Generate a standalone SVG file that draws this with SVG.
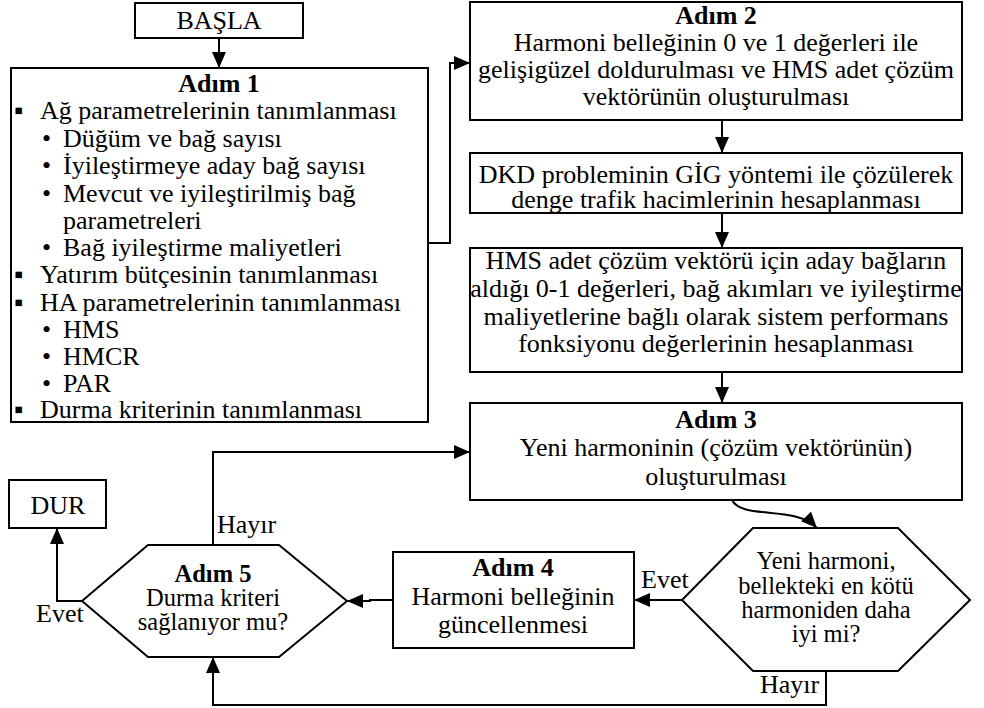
<svg xmlns="http://www.w3.org/2000/svg" width="984" height="708" viewBox="0 0 984 708">
<defs>
<style>
.t{font-family:"Liberation Serif","Times New Roman",serif;font-size:26px;fill:#000}
.h{font-size:24.5px}
.b{font-weight:bold}
.c{text-anchor:middle}
.box{fill:#fff;stroke:#000;stroke-width:2}
.ln{fill:none;stroke:#000;stroke-width:2}
</style>
<marker id="ah" markerWidth="16" markerHeight="14" refX="16" refY="7" orient="auto" markerUnits="userSpaceOnUse">
<path d="M0,0 L16,7 L0,14 z" fill="#000"/>
</marker>
</defs>
<rect width="984" height="708" fill="#fff"/>

<g id="connectors">
<path class="ln" d="M219,38 L219,68" marker-end="url(#ah)"/>
<path class="ln" d="M428,243 L450,243 L450,63 L470,63" marker-end="url(#ah)"/>
<path class="ln" d="M722,120 L722,153" marker-end="url(#ah)"/>
<path class="ln" d="M722,213 L722,248" marker-end="url(#ah)"/>
<path class="ln" d="M722,372 L722,403" marker-end="url(#ah)"/>
<path class="ln" d="M732,500 C742,520 795,505 817,528" marker-end="url(#ah)"/>
<path class="ln" d="M682,600 L634,600" marker-end="url(#ah)"/>
<path class="ln" d="M393,600 L370,600 L370,601 L347,601" marker-end="url(#ah)"/>
<path class="ln" d="M82,601 L57,601 L57,528" marker-end="url(#ah)"/>
<path class="ln" d="M213,545 L213,452 L470,452" marker-end="url(#ah)"/>
<path class="ln" d="M826,671 L826,705 L213,705 L213,657" marker-end="url(#ah)"/>
<text class="t" x="217" y="533">Hayır</text>
<text class="t" x="36" y="622">Evet</text>
<text class="t" x="641" y="588">Evet</text>
<text class="t" x="760" y="693">Hayır</text>
</g>

<g id="basla">
<rect class="box" x="135" y="3" width="168" height="35"/>
<text class="t c" x="219" y="29">BAŞLA</text>
</g>

<g id="adim1">
<rect class="box" x="11" y="68" width="417" height="354"/>
<text class="t b c" x="219" y="92">Adım 1</text>
<text class="t" x="14" y="119">▪</text><text class="t" x="40" y="119">Ağ parametrelerinin tanımlanması</text>
<text class="t" x="42" y="147">•</text><text class="t" x="63" y="147">Düğüm ve bağ sayısı</text>
<text class="t" x="42" y="174">•</text><text class="t" x="63" y="174">İyileştirmeye aday bağ sayısı</text>
<text class="t" x="42" y="202">•</text><text class="t" x="63" y="202">Mevcut ve iyileştirilmiş bağ</text>
<text class="t" x="63" y="229">parametreleri</text>
<text class="t" x="42" y="256">•</text><text class="t" x="63" y="256">Bağ iyileştirme maliyetleri</text>
<text class="t" x="14" y="283">▪</text><text class="t" x="40" y="283">Yatırım bütçesinin tanımlanması</text>
<text class="t" x="14" y="311">▪</text><text class="t" x="40" y="311">HA parametrelerinin tanımlanması</text>
<text class="t" x="42" y="338">•</text><text class="t" x="63" y="338">HMS</text>
<text class="t" x="42" y="365">•</text><text class="t" x="63" y="365">HMCR</text>
<text class="t" x="42" y="392">•</text><text class="t" x="63" y="392">PAR</text>
<text class="t" x="14" y="418">▪</text><text class="t" x="40" y="418">Durma kriterinin tanımlanması</text>
</g>

<g id="adim2">
<rect class="box" x="470" y="2" width="492" height="118"/>
<text class="t b c" x="716" y="24">Adım 2</text>
<text class="t c" x="716" y="51">Harmoni belleğinin 0 ve 1 değerleri ile</text>
<text class="t c" x="716" y="78">gelişigüzel doldurulması ve HMS adet çözüm</text>
<text class="t c" x="716" y="105">vektörünün oluşturulması</text>
</g>

<g id="dkd">
<rect class="box" x="470" y="153" width="492" height="60"/>
<text class="t c" x="716" y="183">DKD probleminin GİG yöntemi ile çözülerek</text>
<text class="t c" x="716" y="208">denge trafik hacimlerinin hesaplanması</text>
</g>

<g id="hms">
<rect class="box" x="470" y="248" width="492" height="124"/>
<text class="t c" x="716" y="269">HMS adet çözüm vektörü için aday bağların</text>
<text class="t c" x="716" y="297">aldığı 0-1 değerleri, bağ akımları ve iyileştirme</text>
<text class="t c" x="716" y="325">maliyetlerine bağlı olarak sistem performans</text>
<text class="t c" x="716" y="352">fonksiyonu değerlerinin hesaplanması</text>
</g>

<g id="adim3">
<rect class="box" x="470" y="403" width="492" height="97"/>
<text class="t b c" x="716" y="428">Adım 3</text>
<text class="t c" x="716" y="456">Yeni harmoninin (çözüm vektörünün)</text>
<text class="t c" x="716" y="485">oluşturulması</text>
</g>

<g id="karar1">
<polygon class="box" points="682,600 753,528 898,528 970,600 898,671 753,671"/>
<text class="t h c" x="826" y="569">Yeni harmoni,</text>
<text class="t h c" x="826" y="594">bellekteki en kötü</text>
<text class="t h c" x="826" y="618">harmoniden daha</text>
<text class="t h c" x="826" y="642">iyi mi?</text>
</g>

<g id="adim4">
<rect class="box" x="393" y="552" width="241" height="96"/>
<text class="t b c" x="513" y="576">Adım 4</text>
<text class="t c" x="513" y="605">Harmoni belleğinin</text>
<text class="t c" x="513" y="633">güncellenmesi</text>
</g>

<g id="adim5">
<polygon class="box" points="82,601 148,545 279,545 347,601 279,657 148,657"/>
<text class="t h b c" x="213" y="582">Adım 5</text>
<text class="t h c" x="213" y="606">Durma kriteri</text>
<text class="t h c" x="213" y="630">sağlanıyor mu?</text>
</g>

<g id="dur">
<rect class="box" x="9" y="480" width="97" height="48"/>
<text class="t c" x="58" y="514">DUR</text>
</g>
</svg>
